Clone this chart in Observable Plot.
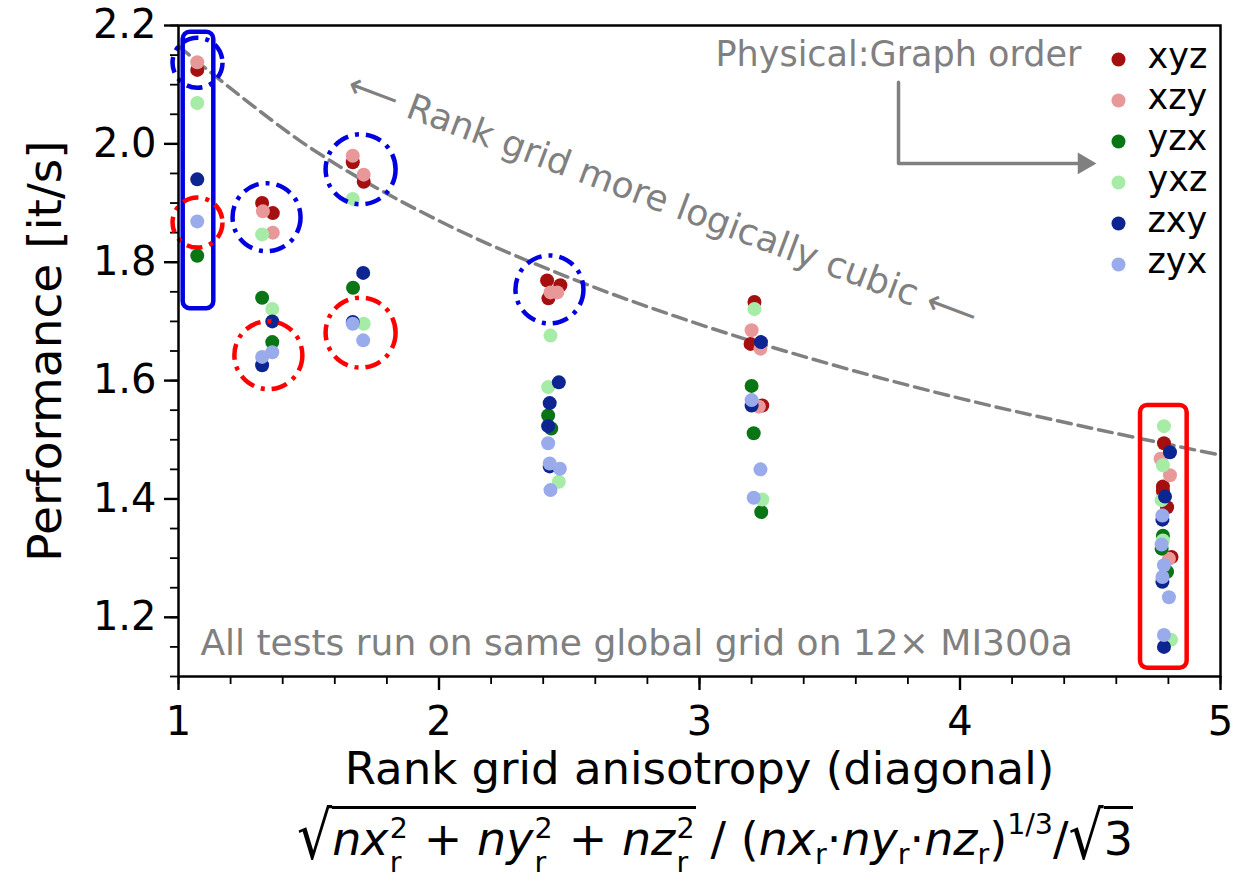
<!DOCTYPE html>
<html>
<head>
<meta charset="utf-8">
<script src="https://cdn.jsdelivr.net/npm/d3@7"></script>
<script src="https://cdn.jsdelivr.net/npm/@observablehq/plot@0.6"></script>
<style>
  html, body { margin: 0; padding: 0; background: white; }
  #wrap { position: relative; width: 1234px; height: 882px; font-family: "DejaVu Sans", sans-serif; }
  #formula { position: absolute; left: 0; top: 806px; width: 1234px; box-sizing: border-box; padding-left: 196px;
             text-align: center; font-size: 46px; line-height: 1; white-space: nowrap; color: black; }
  #formula i { font-style: oblique; }
  .ss { display: inline-block; position: relative; width: 0.45em; height: 0.1em; }
  .ss .p { position: absolute; left: 0.04em; bottom: 0.42em; font-size: 0.62em; line-height: 1; }
  .ss .b { position: absolute; left: 0.04em; top: -0.05em; font-size: 0.62em; line-height: 1; }
  .rad { display: inline-block; font-size: 1.2em; transform: scaleY(1.2); transform-origin: bottom; vertical-align: -0.1em; }
  .ol { border-top: 3px solid black; padding-top: 7px; display: inline-block; }
  .sub { font-size: 0.62em; vertical-align: -0.3em; }
  .sup { font-size: 0.62em; vertical-align: 0.75em; }
</style>
</head>
<body>
<div id="wrap">
  <div id="chart"></div>
  <div id="formula"><span class="rad">√</span><span class="ol"><i>nx</i><span class="ss"><span class="p">2</span><span class="b">r</span></span> + <i>ny</i><span class="ss"><span class="p">2</span><span class="b">r</span></span> + <i>nz</i><span class="ss"><span class="p">2</span><span class="b">r</span></span></span> / (<i>nx</i><span class="sub">r</span>·<i>ny</i><span class="sub">r</span>·<i>nz</i><span class="sub">r</span>)<span class="sup">1/3</span>/<span class="rad">√</span><span class="ol">3</span></div>
</div>
<script>
// ---- data ----
const series = ["xyz", "xzy", "yzx", "yxz", "zxy", "zyx"];
const colors = ["#a50f0f", "#e89898", "#0a7515", "#a6eca6", "#0c2590", "#99abeb"];

const xyzPts = [[1.072,2.125],[1.321,1.900],[1.362,1.883],[1.669,1.969],[1.711,1.936],[2.415,1.769],[2.466,1.761],[2.420,1.739],[3.211,1.733],[3.196,1.662],[3.241,1.558],[4.783,1.494],[4.779,1.421],[4.779,1.413],[4.795,1.386],[4.812,1.302]];
const xzyPts = [[1.072,2.138],[1.324,1.886],[1.362,1.850],[1.669,1.980],[1.711,1.948],[2.428,1.749],[2.454,1.749],[3.200,1.685],[3.234,1.654],[3.228,1.556],[4.770,1.468],[4.806,1.440],[4.802,1.299]];
const yzxPts = [[1.072,1.811],[1.321,1.740],[1.360,1.665],[1.670,1.757],[2.419,1.541],[2.431,1.519],[3.200,1.591],[3.208,1.511],[3.237,1.378],[4.779,1.338],[4.774,1.316],[4.795,1.277]];
const yxzPts = [[1.072,2.069],[1.321,1.847],[1.360,1.721],[1.669,1.907],[1.711,1.696],[2.428,1.676],[2.419,1.589],[2.460,1.429],[3.211,1.721],[3.241,1.399],[4.783,1.523],[4.779,1.457],[4.774,1.398],[4.779,1.330],[4.810,1.162]];
const zxyPts = [[1.072,1.940],[1.360,1.700],[1.321,1.626],[1.709,1.782],[1.669,1.699],[2.460,1.597],[2.425,1.562],[2.419,1.523],[2.425,1.455],[3.236,1.665],[3.200,1.558],[4.806,1.479],[4.787,1.404],[4.777,1.365],[4.777,1.260],[4.783,1.150]];
const zyxPts = [[1.072,1.869],[1.360,1.648],[1.321,1.640],[1.669,1.696],[1.709,1.668],[2.419,1.494],[2.425,1.460],[2.464,1.451],[2.428,1.415],[3.200,1.567],[3.234,1.450],[3.208,1.402],[4.777,1.372],[4.774,1.323],[4.783,1.288],[4.777,1.268],[4.802,1.234],[4.783,1.170]];

// dashed guide curve
const guideX = [1, 1.5, 2, 2.5, 3, 3.5, 4, 4.5, 5];
const guideY = [2.165, 1.995, 1.870, 1.774, 1.695, 1.628, 1.570, 1.520, 1.474];

// tick values
const xMajor = [1, 2, 3, 4, 5];
const yMajor = [1.2, 1.4, 1.6, 1.8, 2.0, 2.2];

// highlight circles: [x, y, radiusPx]
const blueCircles = [[1.073, 2.137, 25], [1.338, 1.876, 34], [1.699, 1.957, 35], [2.424, 1.754, 34]];
const redCircles = [[1.073, 1.867, 25], [1.345, 1.643, 34], [1.699, 1.681, 35]];
// highlight boxes: [x1, x2, y1, y2]
const blueBox = [[1.018, 1.1355, 1.7215, 2.1887]];
const redBox = [[4.693, 4.872, 1.114, 1.558]];

// ---- build ----
const allPts = [xyzPts, xzyPts, yzxPts, yxzPts, zxyPts, zyxPts];
const data = series.flatMap((s, i) => allPts[i].map(([x, y]) => ({s, x, y})));
const guide = guideX.map((x, i) => ({x, y: guideY[i]}));
const xMinor = d3.range(1, 5.0001, 0.2).map(v => +v.toFixed(2));
const yMinor = d3.range(1.1, 2.2001, 0.05).map(v => +v.toFixed(2));
const grey = "#808080";
const FONT = "DejaVu Sans";

const legendMarks = series.flatMap((s, i) => [
  Plot.dot([s], {frameAnchor: "top-right", dx: -102, dy: 34 + i * 41, r: 7, fill: colors[i]}),
  Plot.text([s], {frameAnchor: "top-right", dx: -73, dy: 31 + i * 41, text: d => d, textAnchor: "start", lineAnchor: "middle", fontSize: 35, fill: "black"})
]);

const chart = Plot.plot({
  width: 1234,
  height: 800,
  marginLeft: 178,
  marginRight: 14,
  marginTop: 25,
  marginBottom: 124,
  style: {fontFamily: FONT, fontSize: "40px", background: "white", color: "black"},
  x: {domain: [1, 5]},
  y: {domain: [1.1, 2.2]},
  r: {type: "identity"},
  color: {domain: series, range: colors},
  marks: [
    // axes
    Plot.axisX(xMinor, {tickSize: 8, strokeWidth: 1.8, tickFormat: () => "", label: null}),
    Plot.axisX(xMajor, {tickSize: 14, strokeWidth: 2.4, tickPadding: 16, tickFormat: d => String(d), fontSize: 40, label: null}),
    Plot.axisY(yMinor, {tickSize: 8, strokeWidth: 1.8, tickFormat: () => "", label: null}),
    Plot.axisY(yMajor, {tickSize: 14, strokeWidth: 2.4, tickPadding: 8, tickFormat: d3.format(".1f"), fontSize: 40, label: null}),
    // guide curve
    Plot.line(guide, {x: "x", y: "y", curve: "catmull-rom", stroke: grey, strokeWidth: 3.5, strokeDasharray: "14,7"}),
    // annotations
    Plot.text(["Physical:Graph order"], {x: 3.061, y: 2.150, textAnchor: "start", lineAnchor: "middle", fontSize: 35, fill: grey}),
    Plot.line([[3.764, 2.104], [3.764, 1.967], [4.45, 1.967]], {x: d => d[0], y: d => d[1], stroke: grey, strokeWidth: 3.5}),
    Plot.dot([[4.476, 1.967]], {x: d => d[0], y: d => d[1], symbol: "triangle", rotate: 90, r: 8, fill: grey}),
    Plot.text(["⟵ Rank grid more logically cubic ⟵"], {x: 2.858, y: 1.904, rotate: 20.5, textAnchor: "middle", lineAnchor: "middle", fontSize: 36, fill: grey}),
    Plot.text(["All tests run on same global grid on 12× MI300a"], {x: 1.084, y: 1.156, textAnchor: "start", lineAnchor: "middle", fontSize: 36, fill: grey}),
    // data points
    Plot.dot(data, {x: "x", y: "y", fill: "s", r: 7}),
    // highlights
    Plot.rect(blueBox, {x1: d => d[0], x2: d => d[1], y1: d => d[2], y2: d => d[3], fill: "none", stroke: "#0000e0", strokeWidth: 4.5, rx: 7}),
    Plot.rect(redBox, {x1: d => d[0], x2: d => d[1], y1: d => d[2], y2: d => d[3], fill: "none", stroke: "#ff0000", strokeWidth: 4.5, rx: 7}),
    Plot.dot(blueCircles, {x: d => d[0], y: d => d[1], r: d => d[2], fill: "none", stroke: "#0000e0", strokeWidth: 4.5, strokeDasharray: "16,7,4,7"}),
    Plot.dot(redCircles, {x: d => d[0], y: d => d[1], r: d => d[2], fill: "none", stroke: "#ff0000", strokeWidth: 4.5, strokeDasharray: "16,7,4,7"}),
    // legend
    ...legendMarks,
    // axis titles
    Plot.text(["Rank grid anisotropy (diagonal)"], {frameAnchor: "bottom", dy: 93, textAnchor: "middle", lineAnchor: "middle", fontSize: 45, fill: "black", text: d => d}),
    Plot.text(["Performance [it/s]"], {frameAnchor: "left", dx: -133, rotate: -90, textAnchor: "middle", lineAnchor: "middle", fontSize: 47, fill: "black", text: d => d}),
    Plot.frame({stroke: "black", strokeWidth: 2.5})
  ]
});
document.getElementById("chart").appendChild(chart);
</script>
</body>
</html>
